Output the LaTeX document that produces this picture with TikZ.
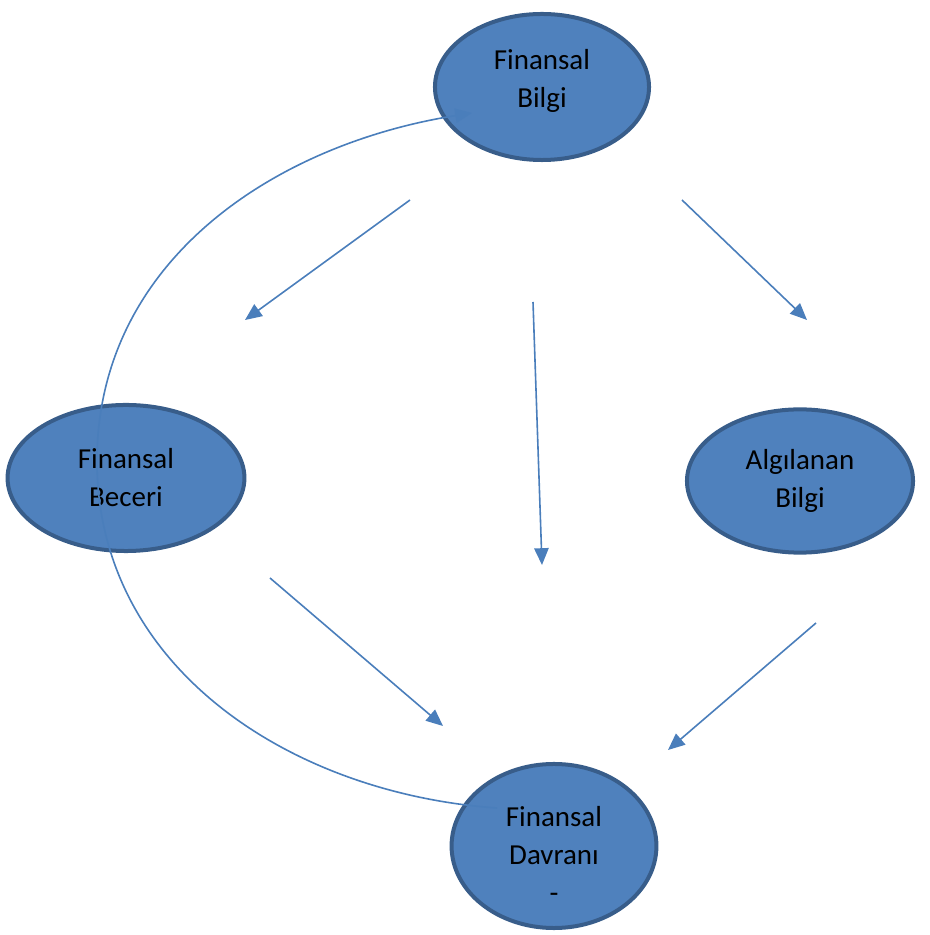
\documentclass[tikz,border=0pt]{standalone}
\usepackage{fontspec}
\setmainfont{Carlito}
\usetikzlibrary{shapes.geometric,arrows.meta}

\definecolor{ovalfill}{HTML}{4F81BD}
\definecolor{ovaldraw}{HTML}{385D8A}
\definecolor{linkblue}{HTML}{4A7EBB}

\begin{document}
\begin{tikzpicture}[x=0.025cm,y=0.025cm,
  oval/.style={ellipse,draw=ovaldraw,fill=ovalfill,line width=0.1cm,inner sep=0pt,align=center,
    font=\fontsize{20.6}{27}\selectfont},
  link/.style={draw=linkblue,line width=0.04cm,-{Triangle[length=0.42cm,width=0.36cm]}}]

\useasboundingbox (0,0) rectangle (929,935);

% the four ovals
\node[oval,minimum width=5.35cm,minimum height=3.65cm] (bilgi) at (542,848)
  {\raisebox{-0.8pt}[0pt][0pt]{\begin{tabular}{@{}c@{}}Finansal\\Bilgi\end{tabular}}};
\node[oval,minimum width=5.92cm,minimum height=3.65cm] (beceri) at (126,457) {Finansal\\Beceri};
\node[oval,minimum width=5.65cm,minimum height=3.58cm] (algilanan) at (800,454) {Algılanan\\Bilgi};
\node[oval,minimum width=5.12cm,minimum height=4.1cm] (davranis) at (554,89)
  {\raisebox{-12.9pt}[0pt][0pt]{\begin{tabular}{@{}c@{}}Finansal\\Davranı\\-\end{tabular}}};

% free arrow ends
\coordinate (bk1) at (410,735); \coordinate (bk2) at (245,615);
\coordinate (bd1) at (533,633); \coordinate (bd2) at (542,370);
\coordinate (ba1) at (682,735); \coordinate (ba2) at (807,615);
\coordinate (kd1) at (270,357); \coordinate (kd2) at (443,209);
\coordinate (ad1) at (816,312); \coordinate (ad2) at (668,185);

\draw[link] (bk1) -- (bk2);
\draw[link] (bd1) -- (bd2);
\draw[link] (ba1) -- (ba2);
\draw[link] (kd1) -- (kd2);
\draw[link] (ad1) -- (ad2);

% feedback curve back to the top oval
\coordinate (loopstart) at (497,127);
\coordinate (loopleft) at (97,474);
\coordinate (loopend) at (472,822);
\draw[link] (loopstart) to[out=176,in=270] (loopleft) to[out=90,in=189] (loopend);

\end{tikzpicture}
\end{document}
